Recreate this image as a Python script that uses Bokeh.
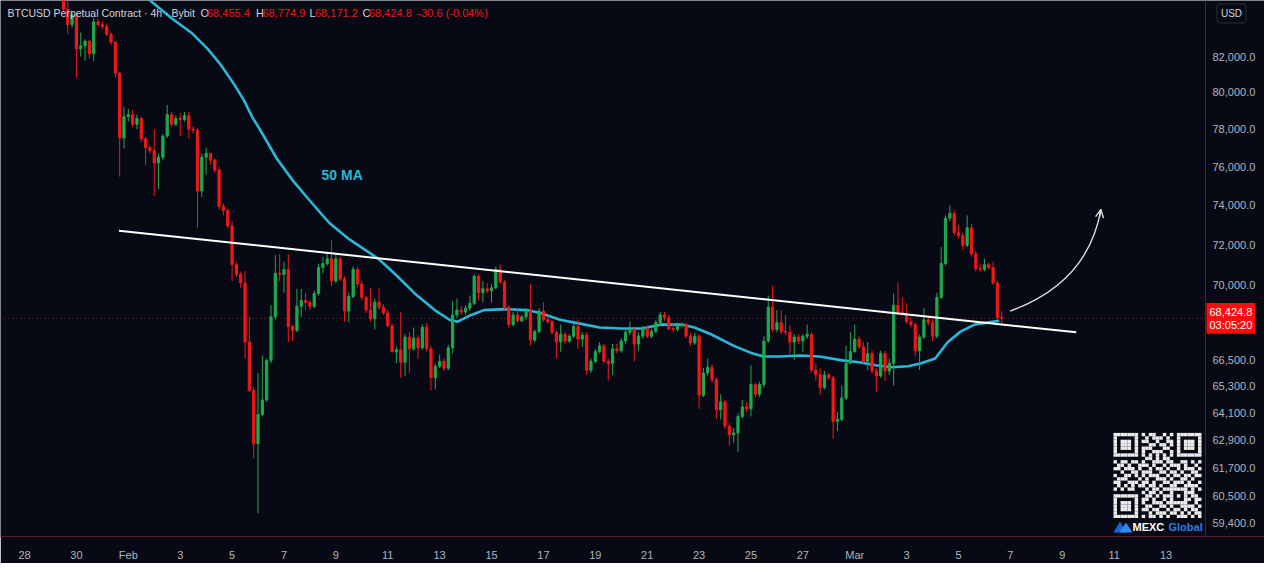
import numpy as np
from bokeh.plotting import figure
from bokeh.models import (Range1d, LinearScale, FixedTicker, Label, Span, Arrow,
                          OpenHead, ColumnDataSource)
from bokeh.embed import file_html
from bokeh.resources import INLINE

# ---------------- data ----------------
# 4h candles, index k counted from Feb 1 00:00 (k/6 = days since Feb 1)
first_k = -15
first_open = 86105
close = [84735, 83832, 84395, 82440, 82606, 82883, 82165, 84000, 83832, 83720, 83273, 82828, 81074, 77519, 78668,
         78774, 78250, 78563, 77467, 77003, 76848, 76183, 76488, 77622, 78774,
         78250, 78563, 78511, 78721, 77988, 77936, 74719, 76488, 76693, 76335,
         75826, 73924, 73726, 72942, 71015, 70541, 70118, 67315, 65100, 62747,
         64021, 64666, 66464, 68495, 70588, 70541, 70777, 68038, 67856, 69001,
         69280, 69187, 69001, 69604, 70872, 71063, 71301, 70212, 71301, 70306,
         68770, 69465, 70777, 70071, 69419, 68816, 68404, 69187, 68955, 68679,
         68084, 66865, 66954, 66375, 67540, 66999, 67495, 67044, 67992, 66999,
         65669, 66197, 66420, 66108, 67044, 68587, 68816, 68724, 68909, 69141,
         70447, 69650, 69837, 69743, 69884, 70777, 70165, 68955, 68130, 68587,
         68312, 68495, 68770, 67405, 67811, 68770, 68358, 68267, 67766, 67315,
         67676, 67360, 67585, 68038, 67450, 67631, 66020, 66420, 66865, 67134,
         66420, 66330, 66999, 66910, 67360, 67766, 67901, 67225, 67585, 67947,
         67585, 67811, 68221, 68587, 68450, 67947, 67901, 68084, 68130, 67585,
         67270, 67585, 64883, 65889, 66152, 65581, 64235, 64580, 63507, 63127,
         63212, 63935, 64363, 64277, 65361, 64926, 65361, 67360, 68955, 67901,
         68221, 67811, 67766, 67315, 67540, 67360, 67585, 67676, 66020, 65801,
         65230, 65801, 65669, 63721, 63807, 64753, 66330, 66865, 67450, 67089,
         66420, 66776, 65976, 65757, 66776, 65976, 66330, 69048, 68724, 68633,
         68267, 68130, 66910, 67540, 68358, 68221, 67585, 69419, 71063, 73333,
         73577, 72599, 72454, 71971, 72844, 71539, 70825, 70777, 71015, 70872,
         70118, 68455.4, 68424.8]
high = [86393, 85245, 84565, 84508, 83385, 82994, 82939, 84223, 84167, 84055, 83888, 83385, 82883, 81128, 79198,
        79092, 79039, 78774, 78668, 77570, 77106, 77988, 76693, 77727, 79304,
        78930, 78721, 78877, 78930, 78930, 78145, 78040, 76693, 77003, 76693,
        76437, 75979, 74072, 73825, 73186, 71158, 70682, 70682, 68495, 65230,
        65889, 66687, 66553, 69048, 71491, 71539, 71158, 71539, 68130, 69837,
        69837, 69650, 69280, 69743, 71063, 71396, 71539, 72213, 71539, 71396,
        70447, 69650, 70920, 70920, 70212, 69511, 69884, 69372, 69884, 69094,
        68816, 68175, 67089, 68724, 67676, 67766, 67992, 67631, 68130, 68221,
        67134, 66330, 66731, 66553, 67179, 69234, 69372, 69001, 69048, 69511,
        70541, 70541, 70212, 70118, 70071, 70920, 71015, 70259, 69048, 68724,
        68909, 68587, 68909, 70071, 67901, 68909, 69187, 68541, 68358, 67856,
        68130, 67766, 67676, 68175, 68358, 67766, 67766, 66553, 66999, 67315,
        67225, 66553, 67225, 67225, 67495, 67901, 68267, 67992, 67766, 68084,
        68084, 67947, 68358, 68724, 68724, 68587, 68175, 68221, 68221, 68221,
        67721, 67721, 67676, 66108, 66553, 66286, 65669, 64926, 64666, 63635,
        63423, 64063, 64666, 64580, 66241, 65449, 65493, 67585, 69511, 69978,
        68816, 68816, 68587, 68084, 67676, 67676, 67676, 68130, 67766, 66330,
        66108, 65976, 65889, 65757, 64149, 65317, 67134, 67766, 68130, 67585,
        67315, 67315, 66910, 66108, 66910, 66910, 66553, 69604, 70118, 69419,
        69141, 68495, 68221, 67676, 68909, 68495, 68404, 69650, 71875, 73479,
        73973, 73726, 72990, 72599, 73479, 73039, 71682, 71063, 71301, 71110,
        71158, 70212, 68774.9]
low = [84621, 83273, 83664, 80802, 82000, 81781, 81890, 81727, 83720, 83552, 83161, 82662, 80802, 75472, 76951,
       78407, 78093, 77988, 77312, 76081, 76693, 74469, 74819, 76335, 77519,
       78093, 78145, 77622, 78407, 77467, 77779, 72844, 74419, 75572, 76081,
       75674, 73775, 73479, 72795, 70212, 70400, 69884, 66553, 65013, 62122,
       59798, 63935, 64580, 66330, 68358, 70212, 69650, 67315, 67360, 67766,
       68495, 68816, 68816, 68909, 69511, 70588, 70968, 69978, 70118, 70212,
       68267, 68221, 69372, 69931, 69280, 68679, 68267, 67901, 68816, 68587,
       67992, 66820, 66330, 65669, 65757, 65889, 66910, 66553, 66954, 66865,
       65100, 65143, 66108, 65976, 66020, 66776, 68450, 68587, 68587, 68770,
       69048, 69280, 69187, 69604, 69187, 69837, 70071, 68816, 67992, 68038,
       68221, 68221, 68358, 67134, 67315, 67721, 68267, 68175, 67676, 66553,
       66865, 67225, 67270, 67495, 66999, 67089, 65801, 65889, 66330, 66776,
       66330, 65537, 65801, 66776, 66820, 67225, 67631, 66420, 66910, 67450,
       67495, 67495, 67721, 68084, 68312, 67856, 67766, 67811, 67992, 67495,
       67134, 67179, 64277, 64796, 65757, 65449, 63807, 63807, 63380, 62663,
       62790, 62372, 63850, 64149, 63935, 64796, 64796, 65230, 67270, 67766,
       67766, 67676, 67631, 66776, 66464, 67225, 66865, 67450, 65932, 65537,
       64883, 65143, 65581, 62958, 63296, 63721, 64666, 66286, 66820, 66999,
       66330, 66020, 65845, 65013, 65669, 65537, 65801, 65317, 68587, 68541,
       68175, 67992, 66642, 66020, 67450, 68084, 67360, 67495, 69326, 70968,
       73186, 72454, 72309, 71730, 71875, 71396, 70682, 70635, 70682, 70777,
       70024, 68358, 68171.2]

# 50-period moving average (days since Feb 1, price)
ma_day = [0.21, 0.84, 1.67, 2.43, 3.06, 3.57, 4.08, 4.46, 4.77, 5.22,
          5.72, 6.36, 6.99, 7.75, 8.51, 9.64, 10.29, 11.05, 11.81, 12.38,
          12.69, 13.22, 13.71, 14.47, 15.35, 15.88, 16.64, 17.40, 18.16, 19.04,
          19.80, 20.56, 21.32, 21.82, 22.46, 23.34, 23.98, 24.48, 25.12, 25.89,
          26.65, 27.52, 28.17, 28.81, 29.42, 30.07, 30.56, 31.10, 31.59, 32.09,
          32.62, 33.11, 33.57]
ma_val = [86050, 85245, 84207, 83368, 82440, 81525, 80442, 79553, 78668, 77622,
          76422, 75236, 74236, 73088, 72275, 71301, 70541, 69604, 68816, 68358,
          68267, 68587, 68816, 68862, 68816, 68679, 68358, 68175, 67992, 67947,
          67947, 68130, 68130, 67992, 67676, 67134, 66820, 66642, 66642, 66687,
          66642, 66464, 66375, 66241, 66152, 66197, 66330, 66553, 67315, 67811,
          68130, 68221, 68312]

# drawn trendline and forecast arrow (days, price)
trend_day = [-0.36, 36.54]
trend_val = [72697, 67766]
arrow_day = [33.99, 36.99, 37.49]     # start, control, end
arrow_val = [68770, 70118, 73775]

last_price = 68424.8
countdown = "03:05:20"

x_tick_days = list(range(-4, 41, 2))
x_tick_labels = ["28", "30", "Feb", "3", "5", "7", "9", "11", "13", "15", "17", "19", "21",
                 "23", "25", "27", "Mar", "3", "5", "7", "9", "11", "13"]
y_tick_values = [59400, 60500, 61700, 62900, 64100, 65300, 66500,
                 70000, 72000, 74000, 76000, 78000, 80000, 82000]

header_main = "BTCUSD Perpetual Contract · 4h · Bybit"
header_ohlc = [("O", "68,455.4"), ("H", "68,774.9"), ("L", "68,171.2"), ("C", "68,424.8")]
header_change = "-30.6 (-0.04%)"

qr_rows = [
    "1111111010110010101111111",
    "1000001001011101001000001",
    "1011101011001001101011101",
    "1011101000110110101011101",
    "1011101011100011001011101",
    "1000001010011100101000001",
    "1111111010101010101111111",
    "0000000001101011000000000",
    "1011011010011101100110101",
    "0110100111010010111010010",
    "1101110100101101001011101",
    "0010011011100110110100110",
    "1001101010111001011011011",
    "0111000101001110100110100",
    "1100111011010011011101001",
    "0101010110110100110011110",
    "1010110001011011111110101",
    "0000000010110100100011100",
    "1111111001101011101010110",
    "1000001011010010100011011",
    "1011101010011101111110010",
    "1011101001100110100111101",
    "1011101011011001011010110",
    "1000001000101110110101011",
    "1111111010110101001110101",
]

# ---------------- style ----------------
BG = "#070a14"
UP = "#1fa94f"
DN = "#f21717"
MA_COL = "#29b8d6"
AXIS_RED = "#5e1b25"
TXT = "#b2b5be"
FONT = "Liberation Sans"

W, H = 1264, 563
BB = 25
FW, FH = W, H - BB          # frame covers full width (price scale drawn inside)
PW = 1205                   # width of the chart pane, price scale to its right
PX_PER_DAY = PW / 46.446
X0 = -4.926
X1 = X0 + FW / PX_PER_DAY

k = np.arange(first_k, first_k + len(close))
day = k / 6.0
opens = [first_open] + close[:-1]
colors = [UP if c >= o else DN for o, c in zip(opens, close)]

src = ColumnDataSource(dict(
    day=day, open=opens, close=close, high=high, low=low,
    top=np.maximum(opens, close), bottom=np.minimum(opens, close), color=colors))

p = figure(width=W, height=H, x_range=Range1d(X0, X1),
           y_range=Range1d(58843, 85245), y_axis_type="log",
           y_axis_location=None, output_backend="svg",
           toolbar_location=None, min_border=0)
p.min_border_right = 0
p.min_border_bottom = BB
p.min_border_left = 0
p.min_border_top = 0
p.background_fill_color = BG
p.border_fill_color = BG
p.outline_line_color = None
p.xgrid.visible = False
p.ygrid.visible = False

p.extra_x_ranges = {"px": Range1d(0, FW)}
p.extra_y_ranges = {"px": Range1d(0, FH)}
p.extra_x_scales = {"px": LinearScale()}
p.extra_y_scales = {"px": LinearScale()}

# time axis
xax = p.xaxis[0]
xax.ticker = FixedTicker(ticks=x_tick_days)
xax.major_label_overrides = {d: lab for d, lab in zip(x_tick_days, x_tick_labels)}
xax.major_tick_line_color = None
xax.minor_tick_line_color = None
xax.axis_line_color = AXIS_RED
xax.major_label_text_color = TXT
xax.major_label_text_font = FONT
xax.major_label_text_font_size = "11px"
xax.major_label_standoff = 6

# price scale (drawn inside the frame, right of the pane)
p.add_layout(Span(location=PW, dimension="height", x_range_name="px",
                  line_color=AXIS_RED, line_width=1))
p.text(x=[PW + 7] * len(y_tick_values), y=y_tick_values,
       text=["{:,.1f}".format(v) for v in y_tick_values], x_range_name="px",
       text_color=TXT, text_font={"value": FONT}, text_font_size="11px",
       text_baseline="middle", text_align="left")

# current price dotted line
p.segment(x0=[0], y0=[last_price], x1=[PW], y1=[last_price], x_range_name="px",
          line_color="#b3202a", line_dash="1 3", line_width=1, line_alpha=0.9)

# moving average
p.line(ma_day, ma_val, line_color=MA_COL, line_width=2.6, line_join="round")

# candles
p.segment(x0="day", y0="low", x1="day", y1="high", line_color="color",
          line_width=1, source=src)
p.vbar(x="day", width=0.085, top="top", bottom="bottom", fill_color="color",
       line_color="color", line_width=1, source=src)

# trendline
p.line(trend_day, trend_val, line_color="white", line_width=2)

# forecast arrow
p.quadratic(x0=[arrow_day[0]], y0=[arrow_val[0]], cx=[arrow_day[1]], cy=[arrow_val[1]],
            x1=[arrow_day[2]], y1=[arrow_val[2]], line_color="#e8e8e8", line_width=1.3)
ax_s = arrow_day[2] - 0.1 * (arrow_day[2] - arrow_day[1])
ay_s = arrow_val[2] * (arrow_val[1] / arrow_val[2]) ** 0.1
p.add_layout(Arrow(end=OpenHead(size=8, line_color="#e8e8e8", line_width=1.3),
                   x_start=ax_s, y_start=ay_s, x_end=arrow_day[2], y_end=arrow_val[2],
                   line_color="#e8e8e8", line_width=1.3))

# "50 MA" label
p.add_layout(Label(x=7.45, y=75572, text="50 MA", text_color=MA_COL,
                   text_font=FONT, text_font_size="14px", text_font_style="bold",
                   text_baseline="middle"))

# header legend
def hdr(x, text, color, size="11px"):
    p.add_layout(Label(x=x, y=525.4, x_range_name="px", y_range_name="px",
                       text=text, text_color=color, text_font=FONT,
                       text_font_size=size, text_baseline="middle"))

hdr(7, header_main, "#d1d4dc", "10.5px")
hx = [(200, 206.5), (255.5, 262), (309, 314.5), (362, 368.5)]
for (lx, vx), (letter, val) in zip(hx, header_ohlc):
    hdr(lx, letter, "#d1d4dc")
    hdr(vx, val, DN)
hdr(417, header_change, DN)

# USD box in price scale
p.add_layout(Label(x=PW + 26, y=525, x_range_name="px", y_range_name="px",
                   text="USD", text_color="#d1d4dc", text_font=FONT,
                   text_font_size="10px", text_align="center", text_baseline="middle",
                   border_line_color="#2a2e39", border_line_width=1,
                   background_fill_color=BG, padding=4, border_radius=3))

# last price tag
p.add_layout(Label(x=PW + 1, y=last_price, x_range_name="px",
                   text="{:,.1f}\n{}".format(last_price, countdown),
                   text_color="white", text_font=FONT, text_font_size="11px",
                   text_align="left", text_baseline="middle", text_line_height=1.05,
                   background_fill_color="#ff0b0b", padding=3))

# QR code (decoration)
cw, ch = 88 / 25, 85.5 / 25
qx0, qy0 = 1113, 104
ql, qr_, qt, qb = [], [], [], []
for r, row in enumerate(qr_rows):
    for c, bit in enumerate(row):
        if bit == "1":
            ql.append(qx0 + c * cw)
            qr_.append(qx0 + (c + 1) * cw)
            qt.append(qy0 - r * ch)
            qb.append(qy0 - (r + 1) * ch)
p.quad(left=ql, right=qr_, top=qt, bottom=qb, fill_color="#ececec", line_color=None,
       x_range_name="px", y_range_name="px")

# MEXC logo
p.patches(xs=[[1113, 1119.5, 1126], [1119, 1125.5, 1132]],
          ys=[[4, 15, 4], [4, 14, 4]], fill_color=["#1665d8", "#2f8af0"],
          line_color=None, x_range_name="px", y_range_name="px")
p.add_layout(Label(x=1132, y=10, x_range_name="px", y_range_name="px", text="MEXC",
                   text_color="white", text_font=FONT, text_font_size="11px",
                   text_font_style="bold", text_baseline="middle"))
p.add_layout(Label(x=1168, y=10, x_range_name="px", y_range_name="px", text="Global",
                   text_color="#2a7de1", text_font=FONT, text_font_size="11px",
                   text_font_style="bold", text_baseline="middle"))

open("out.html", "w").write(file_html(p, INLINE))
